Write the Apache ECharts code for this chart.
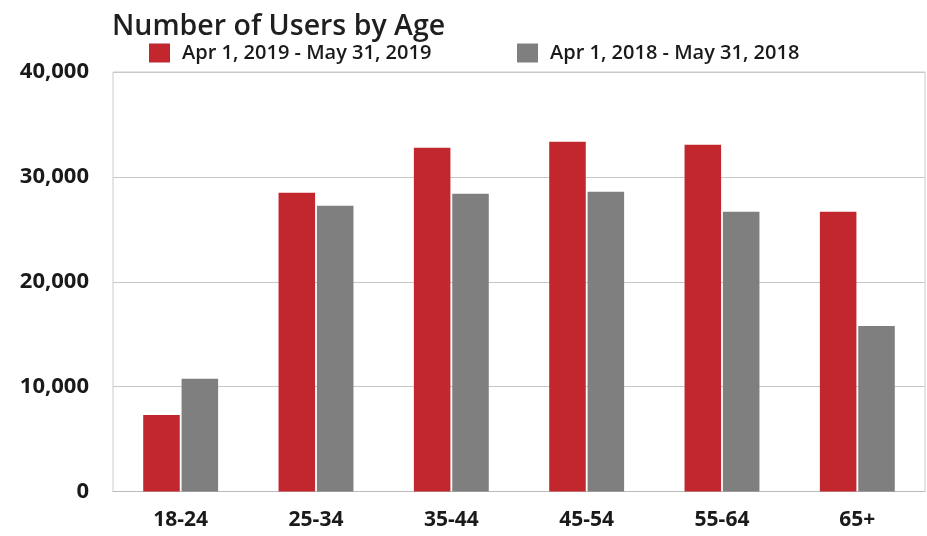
<!DOCTYPE html>
<html>
<head>
<meta charset="utf-8">
<script src="https://cdn.jsdelivr.net/npm/echarts@6/dist/echarts.min.js"></script>
<style>
html,body{margin:0;padding:0;background:#fff;}
#chart{width:927px;height:536px;}
</style>
</head>
<body>
<div id="chart"></div>
<script>
const titleText = 'Number of Users by Age';
const categories = ['18-24', '25-34', '35-44', '45-54', '55-64', '65+'];
const seriesNames = ['Apr 1, 2019 - May 31, 2019', 'Apr 1, 2018 - May 31, 2018'];
const values2019 = [7300, 28480, 32780, 33350, 33060, 26670];
const values2018 = [10740, 27240, 28390, 28580, 26670, 15790];
const yTicks = [0, 10000, 20000, 30000, 40000];

const FONT = '"Open Sans", "Noto Sans", sans-serif';
const chart = echarts.init(document.getElementById('chart'), null, {renderer: 'canvas'});
chart.setOption({
  backgroundColor: '#ffffff',
  animation: false,
  title: {
    text: titleText,
    left: 112, top: 12, padding: 0,
    textStyle: {fontFamily: FONT, fontSize: 28.5, fontWeight: 600, color: '#1f1f1f'}
  },
  legend: [
    {
      data: [seriesNames[0]], left: 149, top: 43, padding: 0,
      itemWidth: 21, itemHeight: 19,
      icon: 'rect',
      textStyle: {fontFamily: FONT, fontSize: 20, fontWeight: 600, color: '#1a1a1a', padding: [0, 0, 0, 7]}
    },
    {
      data: [seriesNames[1]], left: 517, top: 43, padding: 0,
      itemWidth: 21, itemHeight: 19,
      icon: 'rect',
      textStyle: {fontFamily: FONT, fontSize: 20, fontWeight: 600, color: '#1a1a1a', padding: [0, 0, 0, 7]}
    }
  ],
  grid: {
    left: 113, right: 2, top: 72, bottom: 44.5,
    show: true, borderColor: '#cccccc', borderWidth: 1
  },
  xAxis: {
    type: 'category',
    data: categories,
    axisLine: {lineStyle: {color: '#bbbbbb'}},
    axisTick: {show: false},
    axisLabel: {fontFamily: FONT, fontSize: 21, fontWeight: 'bold', color: '#1a1a1a', margin: 18}
  },
  yAxis: {
    type: 'value',
    min: yTicks[0], max: yTicks[yTicks.length - 1], interval: 10000,
    axisLine: {show: false},
    axisTick: {show: false},
    splitLine: {lineStyle: {color: '#c8c8c8'}},
    axisLabel: {
      fontFamily: FONT, fontSize: 22, fontWeight: 'bold', color: '#1a1a1a', margin: 24,
      formatter: v => v.toLocaleString('en-US')
    }
  },
  series: [
    {
      name: seriesNames[0], type: 'bar', data: values2019,
      barWidth: '27%', barGap: '5%',
      itemStyle: {color: '#c1272d'}
    },
    {
      name: seriesNames[1], type: 'bar', data: values2018,
      barWidth: '27%', barGap: '5%',
      itemStyle: {color: '#7f7f7f'}
    }
  ]
});
</script>
</body>
</html>
